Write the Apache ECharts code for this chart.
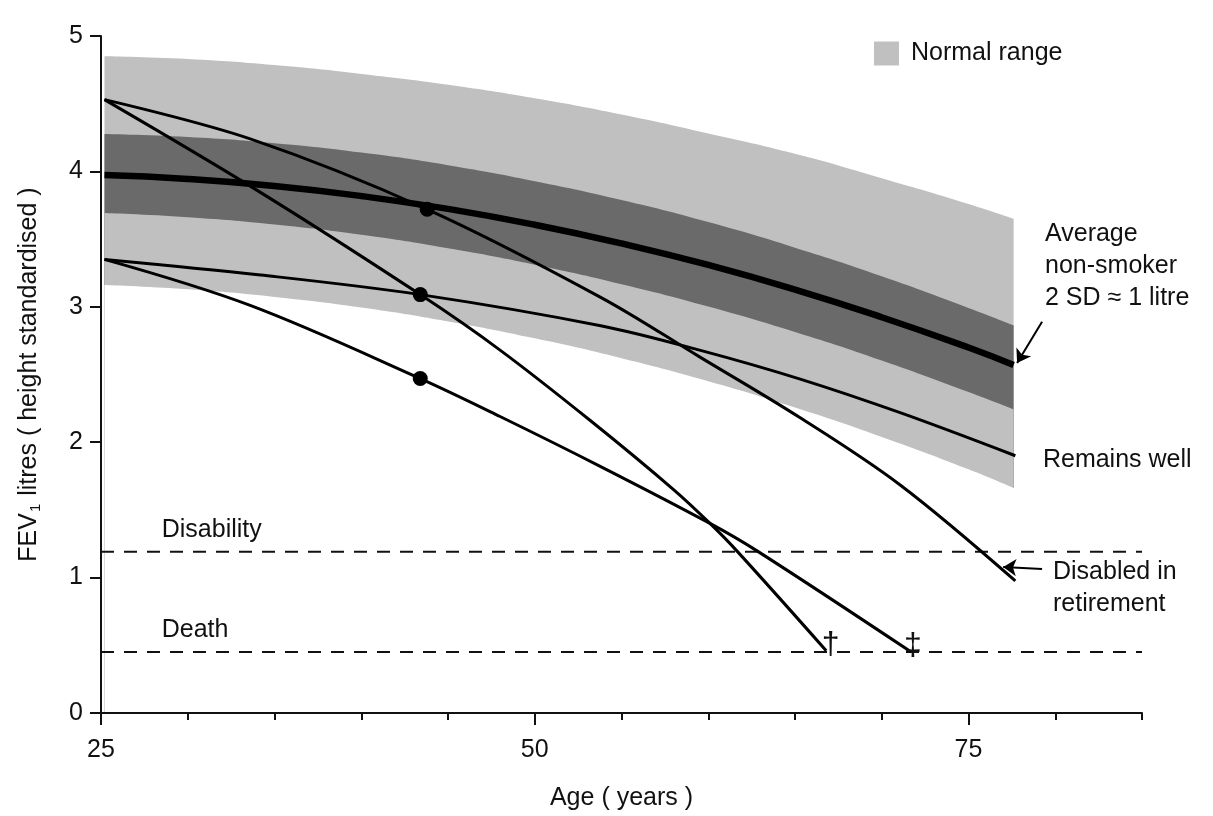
<!DOCTYPE html>
<html>
<head>
<meta charset="utf-8">
<script src="https://cdn.jsdelivr.net/npm/echarts@6/dist/echarts.min.js"></script>
<style>
html,body{margin:0;padding:0;background:#fff;}
#chart{width:1213px;height:816px;}
</style>
</head>
<body>
<div id="chart"></div>
<script>
// ---- data ----
const bandAges    = [25.2, 30, 35, 40, 45, 50, 55, 60, 65, 70, 75, 77.6];
const outerTop    = [4.85, 4.83, 4.785, 4.72, 4.64, 4.54, 4.42, 4.28, 4.13, 3.95, 3.76, 3.65];
const darkTop     = [4.276, 4.254, 4.208, 4.139, 4.046, 3.928, 3.789, 3.626, 3.437, 3.226, 2.992, 2.863];
const meanFev     = [3.973, 3.944, 3.892, 3.818, 3.723, 3.606, 3.468, 3.309, 3.127, 2.923, 2.699, 2.570];
const darkBottom  = [3.693, 3.662, 3.608, 3.532, 3.432, 3.311, 3.167, 3.002, 2.814, 2.603, 2.370, 2.242];
const outerBottom = [3.161, 3.129, 3.073, 2.995, 2.892, 2.767, 2.620, 2.450, 2.256, 2.039, 1.800, 1.662];

const retiredAges = [25.2, 33.6, 43.8, 53.8, 59.5, 65.3, 71.1, 77.7];
const retiredFev  = [4.53, 4.24, 3.72, 3.07, 2.63, 2.18, 1.68, 0.975];
const steepAges   = [25.2, 34.0, 43.4, 48.0, 53.2, 58.0, 60.1, 61.7, 66.8];
const steepFev    = [4.53, 3.86, 3.09, 2.68, 2.16, 1.65, 1.40, 1.19, 0.46];
const wellAges    = [25.2, 34.2, 43.4, 53.8, 59.5, 65.3, 71.1, 77.7];
const wellFev     = [3.35, 3.235, 3.09, 2.86, 2.68, 2.466, 2.216, 1.90];
const lowAges     = [25.2, 33.6, 43.4, 48.0, 53.8, 60.1, 62.9, 71.7];
const lowFev      = [3.35, 3.01, 2.47, 2.19, 1.82, 1.40, 1.19, 0.45];

const dotAges = [43.8, 43.4, 43.4];
const dotFev  = [3.72, 3.09, 2.47];

const disabilityLevel = 1.19;
const deathLevel = 0.45;
const axisRange = [25, 85];

const xTickLabels = [25, 50, 75];
const yTickLabels = [0, 1, 2, 3, 4, 5];

const annotations = [
  {text: 'Average\nnon-smoker\n2 SD \u2248 1 litre', x: 79.41, y: 3.30},
  {text: 'Remains well', x: 79.29, y: 1.87},
  {text: 'Disabled in\nretirement', x: 79.87, y: 0.92},
  {text: 'Disability', x: 28.5, y: 1.35},
  {text: 'Death', x: 28.5, y: 0.61}
];
const daggers = [
  {text: '\u2020', x: 67.05, y: 0.50},
  {text: '\u2021', x: 71.8, y: 0.49}
];
const arrows = [
  {from: [79.24, 2.89], to: [77.80, 2.585]},
  {from: [79.24, 1.064], to: [77.0, 1.078]}
];

// ---- build ----
const pairs = (xs, ys) => xs.map((x, i) => [x, ys[i]]);
const FONT = '"Liberation Sans", Arial, Helvetica, sans-serif';
const INK = '#111';
const LIGHT = '#c0c0c0';
const DARK = '#6a6a6a';
const lastIdx = bandAges.length - 1;

const chart = echarts.init(document.getElementById('chart'), null, {renderer: 'canvas'});

const lineBase = {type: 'line', symbol: 'none', silent: true, xAxisIndex: 0, yAxisIndex: 0};
function bandLayer(name, ys, color, z) {
  return Object.assign({}, lineBase, {
    name: name, smooth: true, data: pairs(bandAges, ys), z: z,
    itemStyle: {color: color},
    lineStyle: {width: 0, opacity: 0},
    areaStyle: {color: color, opacity: 1, origin: 'start'}
  });
}
function blackLine(name, xs, ys) {
  return Object.assign({}, lineBase, {
    name: name, smooth: 0.35, data: pairs(xs, ys),
    lineStyle: {color: '#000', width: 3}, z: 7
  });
}

const option = {
  animation: false,
  backgroundColor: '#fff',
  textStyle: {fontFamily: FONT, color: INK},
  grid: {left: 101, right: 71, top: 36, bottom: 103, containLabel: false},
  legend: {
    left: 874, top: 41, padding: 0,
    itemWidth: 25, itemHeight: 24,
    icon: 'rect',
    selectedMode: false,
    data: [{name: 'Normal range', itemStyle: {color: LIGHT, borderWidth: 0}}],
    textStyle: {fontSize: 25, color: INK, fontFamily: FONT, padding: [0, 0, 0, 7]}
  },
  xAxis: [
    {
      type: 'value', min: axisRange[0], max: axisRange[1], position: 'bottom', z: 10,
      name: 'Age ( years )', nameLocation: 'middle', nameGap: 73,
      nameTextStyle: {fontSize: 25, color: INK, fontFamily: FONT},
      axisLine: {show: true, lineStyle: {color: INK, width: 2}},
      axisTick: {show: true, length: 12, lineStyle: {color: INK, width: 2}, customValues: xTickLabels},
      axisLabel: {show: true, fontSize: 25, color: INK, margin: 25, fontFamily: FONT, customValues: xTickLabels},
      splitLine: {show: false}
    },
    {
      type: 'value', min: axisRange[0], max: axisRange[1], interval: 5, position: 'bottom', offset: 0, z: 10,
      axisLine: {show: false},
      axisTick: {show: true, length: 7, lineStyle: {color: INK, width: 2}},
      axisLabel: {show: false},
      splitLine: {show: false}
    }
  ],
  yAxis: {
    type: 'value', min: 0, max: 5, interval: 1, z: 10,
    name: '{a|FEV}{s|1}{a| litres ( height standardised )}',
    nameLocation: 'middle', nameGap: 58,
    nameTextStyle: {
      rich: {
        a: {fontSize: 25, color: INK, fontFamily: FONT},
        s: {fontSize: 15, color: INK, fontFamily: FONT, padding: [12, 1, 0, 1]}
      }
    },
    axisLine: {show: true, lineStyle: {color: INK, width: 2}},
    axisTick: {show: true, length: 11, lineStyle: {color: INK, width: 2}},
    axisLabel: {fontSize: 25, color: INK, margin: 18, fontFamily: FONT,
      formatter: v => (yTickLabels.indexOf(v) >= 0 ? String(v) : '')},
    splitLine: {show: false}
  },
  series: [
    bandLayer('Normal range', outerTop, LIGHT, 1),
    bandLayer('darkTop', darkTop, DARK, 2),
    bandLayer('darkBottom', darkBottom, LIGHT, 3),
    bandLayer('outerBottom', outerBottom, '#ffffff', 4),
    Object.assign({}, lineBase, {
      name: 'bandEdgeCleanup',
      data: [[bandAges[lastIdx], 0], [bandAges[lastIdx], outerBottom[lastIdx]]],
      lineStyle: {color: '#ffffff', width: 2}, z: 4
    }),
    Object.assign({}, lineBase, {
      name: 'Disability', data: [[axisRange[0], disabilityLevel], [axisRange[1], disabilityLevel]],
      lineStyle: {color: INK, width: 2, type: [13, 10]}, z: 5
    }),
    Object.assign({}, lineBase, {
      name: 'Death', data: [[axisRange[0], deathLevel], [axisRange[1], deathLevel]],
      lineStyle: {color: INK, width: 2, type: [13, 10]}, z: 5
    }),
    Object.assign({}, lineBase, {
      name: 'Average non-smoker', smooth: true, data: pairs(bandAges, meanFev),
      lineStyle: {color: '#000', width: 6.5}, z: 6,
      markLine: {
        silent: true, symbol: ['none', 'arrow'], symbolSize: 13,
        label: {show: false},
        lineStyle: {color: '#000', width: 2, type: 'solid', opacity: 1},
        data: arrows.map(a => [{coord: a.from}, {coord: a.to}])
      }
    }),
    blackLine('Disabled in retirement', retiredAges, retiredFev),
    blackLine('Dies early', steepAges, steepFev),
    blackLine('Remains well', wellAges, wellFev),
    blackLine('Low start', lowAges, lowFev),
    {
      type: 'scatter', name: 'dots', silent: true, symbol: 'circle', symbolSize: 15,
      itemStyle: {color: '#000', opacity: 1}, data: pairs(dotAges, dotFev), z: 8
    },
    {
      type: 'scatter', name: 'annotations', silent: true, symbolSize: 0, clip: false, z: 9,
      itemStyle: {opacity: 1},
      data: annotations.map(a => ({value: [a.x, a.y], label: {formatter: a.text}})),
      label: {show: true, position: 'right', distance: 0, fontSize: 25, lineHeight: 32,
        color: INK, opacity: 1, fontFamily: FONT, align: 'left', verticalAlign: 'middle'}
    },
    {
      type: 'scatter', name: 'daggers', silent: true, symbolSize: 0, clip: false, z: 9,
      itemStyle: {opacity: 1},
      data: daggers.map(a => ({value: [a.x, a.y], label: {formatter: a.text}})),
      label: {show: true, position: 'inside', fontSize: 32, color: INK, opacity: 1, fontFamily: FONT}
    }
  ]
};
chart.setOption(option);
</script>
</body>
</html>
